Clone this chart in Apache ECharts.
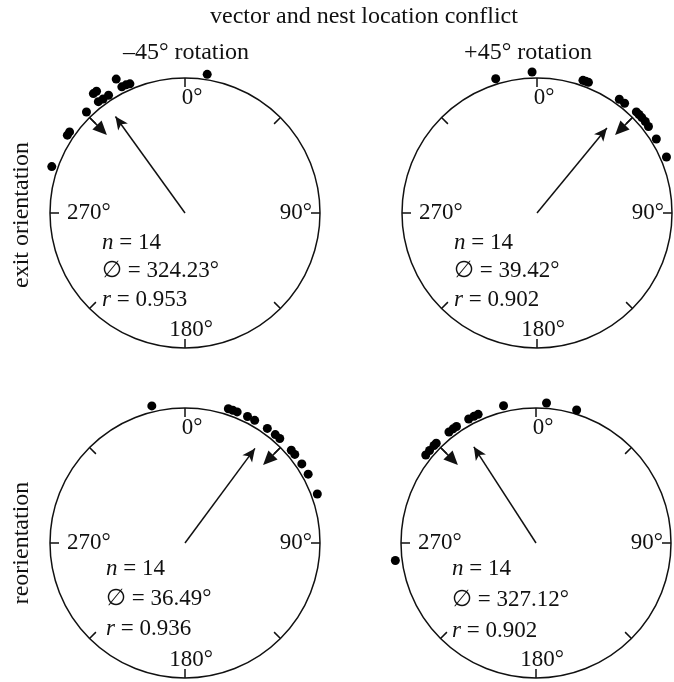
<!DOCTYPE html>
<html><head><meta charset="utf-8">
<script src="https://cdn.jsdelivr.net/npm/echarts@6/dist/echarts.min.js"></script>
<style>html,body{margin:0;padding:0;background:#fff}#c{width:674px;height:682px}</style>
</head><body><div id="c"></div>
<script>
// ---------- data ----------
const figureTitle = 'vector and nest location conflict';
const columnTitles = ['\u201345\u00b0 rotation', '+45\u00b0 rotation'];
const rowTitles = ['exit orientation', 'reorientation'];
const tickAngles = [0, 90, 180, 270];
const tickLabels = ['0\u00b0', '90\u00b0', '180\u00b0', '270\u00b0'];

// panel order: top-left, top-right, bottom-left, bottom-right
const dotAnglesTL = [9.1, 289.2, 303.5, 305.1, 315.7, 322.1, 322.5, 324.0, 324.3, 327.0, 332.8, 333.4, 335.3, 336.9];
const dotRadiiTL  = [1.04, 1.045, 1.045, 1.045, 1.045, 1.045, 1.115, 1.115, 1.04, 1.04, 1.115, 1.045, 1.045, 1.04];
const dotAnglesTR = [342.9, 358.0, 19.1, 20.3, 21.5, 35.9, 38.6, 44.5, 46.0, 47.7, 49.8, 52.2, 58.2, 66.6];
const dotRadiiTR  = [1.04, 1.045, 1.04, 1.04, 1.04, 1.04, 1.04, 1.05, 1.05, 1.05, 1.05, 1.045, 1.04, 1.045];
const dotAnglesBL = [346.4, 17.9, 19.8, 21.7, 26.3, 29.6, 35.7, 39.8, 42.2, 48.9, 51.1, 55.9, 60.8, 69.7];
const dotRadiiBL  = [1.045, 1.045, 1.045, 1.045, 1.045, 1.045, 1.045, 1.045, 1.045, 1.045, 1.045, 1.045, 1.045, 1.045];
const dotAnglesBR = [262.9, 308.6, 311.0, 313.7, 315.0, 321.9, 324.0, 325.7, 331.5, 333.9, 335.8, 346.7, 4.3, 17.0];
const dotRadiiBR  = [1.05, 1.045, 1.045, 1.045, 1.045, 1.045, 1.045, 1.045, 1.045, 1.045, 1.045, 1.045, 1.04, 1.03];

const sampleSizes = [14, 14, 14, 14];
const meanAngles = [324.23, 39.42, 36.49, 327.12];
const meanLengths = [0.953, 0.902, 0.936, 0.902];
const arrowTipRadius = [0.926, 0.86, 0.916, 0.893];
const nestAngles = [315, 45, 45, 315];

// ---------- layout ----------
const R = 135;
const centers = [[185, 213], [537, 213], [185, 543], [536, 543]];
const dotAngles = [dotAnglesTL, dotAnglesTR, dotAnglesBL, dotAnglesBR];
const dotRadii = [dotRadiiTL, dotRadiiTR, dotRadiiBL, dotRadiiBR];
const FONT = '"Liberation Serif", "Times New Roman", serif';
const FS = 23;
const INK = '#111';

const polar = [], angleAxis = [], radiusAxis = [], series = [], graphic = [];

const labelStyle = [
  {r: 0.85, align: 'center', offset: [7, 0]},
  {r: 0.94, align: 'right', offset: [0, 0]},
  {r: 0.87, align: 'center', offset: [6, 0]},
  {r: 0.875, align: 'left', offset: [0, 0]}
];

for (let i = 0; i < 4; i++) {
  polar.push({center: centers[i], radius: R});
  angleAxis.push({
    polarIndex: i, type: 'value', min: 0, max: 360, interval: 45,
    startAngle: 90, clockwise: true,
    axisLine: {show: true, lineStyle: {color: INK, width: 1.5}},
    axisTick: {show: true, inside: true, length: 9, lineStyle: {color: INK, width: 1.5}},
    axisLabel: {show: false}, splitLine: {show: false}
  });
  radiusAxis.push({
    polarIndex: i, type: 'value', min: 0, max: 1,
    axisLine: {show: false}, axisTick: {show: false}, axisLabel: {show: false}, splitLine: {show: false}
  });
  // data dots
  series.push({
    type: 'scatter', coordinateSystem: 'polar', polarIndex: i, clip: false,
    symbol: 'circle', symbolSize: 9, itemStyle: {color: '#000', opacity: 1}, silent: true,
    data: dotAngles[i].map((a, k) => [dotRadii[i][k], a])
  });
  // mean vector
  series.push({
    type: 'line', coordinateSystem: 'polar', polarIndex: i, clip: false, silent: true,
    lineStyle: {color: INK, width: 1.5}, itemStyle: {color: INK, opacity: 1},
    data: [
      {value: [0, meanAngles[i]], symbol: 'none'},
      {value: [arrowTipRadius[i] - 6 / R, meanAngles[i]], symbol: 'arrow', symbolSize: [9, 13], symbolRotate: -meanAngles[i]}
    ]
  });
  // nest direction marker
  series.push({
    type: 'line', coordinateSystem: 'polar', polarIndex: i, clip: false, silent: true,
    lineStyle: {color: INK, width: 1.5}, itemStyle: {color: INK, opacity: 1},
    data: [
      {value: [1, nestAngles[i]], symbol: 'none'},
      {value: [0.87, nestAngles[i]], symbol: 'triangle', symbolSize: [13, 14], symbolRotate: -(nestAngles[i] + 180)}
    ]
  });
  // angle tick labels
  series.push({
    type: 'scatter', coordinateSystem: 'polar', polarIndex: i, clip: false, silent: true,
    symbolSize: 0, itemStyle: {opacity: 1},
    data: tickAngles.map((a, k) => ({
      value: [labelStyle[k].r, a], name: tickLabels[k],
      label: {show: true, position: 'inside', formatter: tickLabels[k], align: labelStyle[k].align,
              verticalAlign: 'middle', offset: labelStyle[k].offset, opacity: 1,
              fontFamily: FONT, fontSize: FS, color: INK, textBorderWidth: 0}
    }))
  });
}

// stats text
const statPos = [[102, 243, 28.5], [454, 243, 28.5], [106, 569, 30], [452, 569, 31]];
const rich = {
  i: {fontFamily: FONT, fontSize: FS, fontStyle: 'italic', fill: INK, color: INK},
  t: {fontFamily: FONT, fontSize: FS, fill: INK, color: INK}
};
for (let i = 0; i < 4; i++) {
  const [x, y, dy] = statPos[i];
  const lines = [
    '{i|n}{t| = ' + sampleSizes[i] + '}',
    '{t|\u2205 = ' + meanAngles[i].toFixed(2) + '\u00b0}',
    '{i|r}{t| = ' + meanLengths[i].toFixed(3) + '}'
  ];
  lines.forEach((txt, k) => {
    graphic.push({type: 'text', left: x, top: y + k * dy - 12,
      style: {text: txt, rich: rich, font: FS + 'px ' + FONT, fill: INK}});
  });
}

// titles
const TFS = 24;
graphic.push({type: 'text', x: 364, y: 17, style: {text: figureTitle, font: TFS + 'px ' + FONT, fill: INK, align: 'center', verticalAlign: 'middle'}});
graphic.push({type: 'text', x: 186, y: 53, style: {text: columnTitles[0], font: TFS + 'px ' + FONT, fill: INK, align: 'center', verticalAlign: 'middle'}});
graphic.push({type: 'text', x: 528, y: 53, style: {text: columnTitles[1], font: TFS + 'px ' + FONT, fill: INK, align: 'center', verticalAlign: 'middle'}});
graphic.push({type: 'text', x: 22, y: 215, rotation: Math.PI / 2, style: {text: rowTitles[0], font: TFS + 'px ' + FONT, fill: INK, align: 'center', verticalAlign: 'middle'}});
graphic.push({type: 'text', x: 22, y: 543, rotation: Math.PI / 2, style: {text: rowTitles[1], font: TFS + 'px ' + FONT, fill: INK, align: 'center', verticalAlign: 'middle'}});

const chart = echarts.init(document.getElementById('c'), null, {renderer: 'canvas'});
chart.setOption({
  animation: false,
  backgroundColor: '#fff',
  polar, angleAxis, radiusAxis, series, graphic
});
</script>
</body></html>
